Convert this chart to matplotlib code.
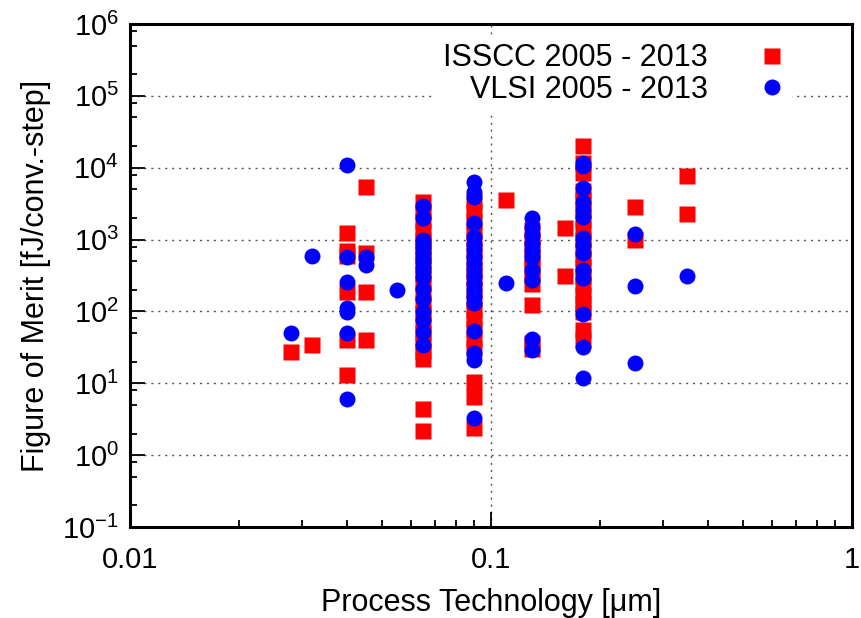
import matplotlib
matplotlib.use("Agg")
import matplotlib.pyplot as plt
from matplotlib.ticker import LogLocator, NullFormatter

plt.rcParams["font.family"] = ["Liberation Sans", "DejaVu Sans"]
plt.rcParams["mathtext.fontset"] = "custom"
plt.rcParams["mathtext.rm"] = "Liberation Sans"
plt.rcParams["mathtext.it"] = "Liberation Sans"

# ISSCC 2005 - 2013: process node [um] -> FoM values [fJ/conv.-step]
isscc_nodes = [0.028, 0.032, 0.04, 0.045, 0.065, 0.09, 0.11, 0.13, 0.16, 0.18, 0.25, 0.35]
isscc_fom = [
    [27],
    [34],
    [1250, 700, 600, 185, 40, 13],
    [5400, 650, 185, 40],
    [3300, 2500, 1800, 1300, 1000, 800, 600, 450, 330, 250, 180, 130, 95, 70, 50, 38, 28, 22, 4.4, 2.2],
    [3400, 2500, 1800, 1300, 950, 700, 500, 370, 270, 200, 145, 105, 78, 57, 42, 30, 10.5, 6.4, 2.4],
    [3500],
    [1340, 1000, 750, 560, 420, 320, 240, 122, 36, 30],
    [1440, 310],
    [20000, 11500, 8500, 4700, 3500, 2600, 1900, 1400, 1000, 750, 560, 420, 310, 230, 170, 130, 98, 55, 40],
    [2800, 1000],
    [7600, 2300],
]

# VLSI 2005 - 2013
vlsi_nodes = [0.028, 0.032, 0.04, 0.045, 0.055, 0.065, 0.09, 0.11, 0.13, 0.18, 0.25, 0.35]
vlsi_fom = [
    [50],
    [600],
    [11000, 565, 255, 110, 98, 50, 6],
    [565, 440],
    [197],
    [2900, 1980, 1000, 880, 760, 650, 560, 480, 410, 350, 300, 205, 148, 98, 75, 51, 34],
    [6300, 4550, 3900, 1700, 1070, 870, 710, 580, 470, 380, 310, 250, 200, 160, 130, 53, 26, 21, 3.3],
    [245],
    [1980, 1480, 1150, 890, 710, 565, 375, 270, 42, 29],
    [11500, 10500, 5300, 3300, 2560, 2050, 1040, 830, 645, 375, 290, 91, 32, 11.8],
    [1180, 225, 19],
    [310],
]


def flatten(nodes, groups):
    xs, ys = [], []
    for n, g in zip(nodes, groups):
        xs += [n] * len(g)
        ys += g
    return xs, ys


fig = plt.figure(figsize=(8.61, 6.18), dpi=100)
ax = fig.add_axes([130 / 861, 91 / 618, 722 / 861, 503 / 618])

ix, iy = flatten(isscc_nodes, isscc_fom)
vx, vy = flatten(vlsi_nodes, vlsi_fom)
ax.plot(ix, iy, ls="none", marker="s", ms=11.5, color="#ff0000", mec="none",
        label="ISSCC 2005 - 2013", zorder=3)
ax.plot(vx, vy, ls="none", marker="o", ms=11.5, color="#0000ff", mec="none",
        label="VLSI 2005 - 2013", zorder=4)

ax.set_xscale("log")
ax.set_yscale("log")
ax.set_xlim(0.01, 1)
ax.set_ylim(0.1, 1e6)

ax.xaxis.set_major_locator(LogLocator(base=10, numticks=10))
ax.yaxis.set_major_locator(LogLocator(base=10, numticks=20))
ax.xaxis.set_minor_locator(LogLocator(base=10, subs=range(2, 10), numticks=20))
ax.yaxis.set_minor_locator(LogLocator(base=10, subs=(2, 5, 8), numticks=20))
ax.xaxis.set_minor_formatter(NullFormatter())
ax.yaxis.set_minor_formatter(NullFormatter())
ax.xaxis.set_major_formatter(matplotlib.ticker.FuncFormatter(lambda v, p: f"{v:g}"))

ax.tick_params(which="both", direction="in", top=False, right=False, labelsize=21)
ax.tick_params(which="major", length=11, width=1.3)
ax.tick_params(which="minor", length=5, width=1.3)
ax.tick_params(axis="x", pad=14)
ax.tick_params(axis="y", pad=8)
for s in ax.spines.values():
    s.set_linewidth(2.2)

ax.grid(True, which="major", ls=(0, (1.5, 3.5)), color="#555555", lw=1)
ax.set_axisbelow(True)

ax.set_xlabel("Process Technology [\u03bcm]", fontsize=22, labelpad=10)
ax.set_ylabel("Figure of Merit [fJ/conv.-step]", fontsize=22, labelpad=8)

leg = ax.legend(loc="upper right", bbox_to_anchor=(0.938, 1.007), markerfirst=False,
                fontsize=22, frameon=True, fancybox=False, framealpha=1,
                edgecolor="none", handletextpad=1.7, labelspacing=0.05,
                borderpad=0.25, handlelength=0.8)
leg.set_zorder(5)

fig.savefig("out.png", dpi=100)
